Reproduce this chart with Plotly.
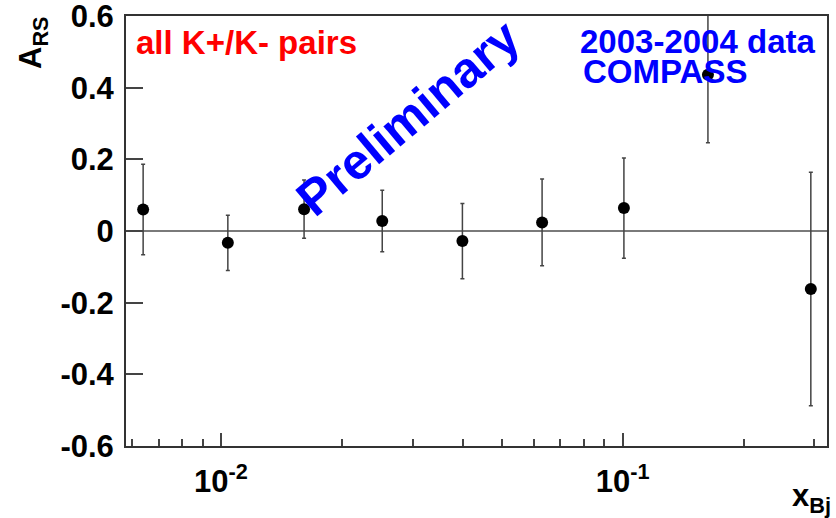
import plotly.graph_objects as go

# Asymmetry A_RS vs x_Bj, all K+/K- pairs (COMPASS 2003-2004)
x_bj = [0.0064, 0.0104, 0.0161, 0.0252, 0.0399, 0.0630, 0.1007, 0.1630, 0.2940]
a_rs = [0.060, -0.033, 0.061, 0.028, -0.028, 0.024, 0.064, 0.436, -0.162]
a_err = [0.126, 0.077, 0.081, 0.086, 0.105, 0.121, 0.140, 0.190, 0.326]

y_tickvals = [-0.6, -0.4, -0.2, 0, 0.2, 0.4, 0.6]
y_ticktext = ["-0.6", "-0.4", "-0.2", "0", "0.2", "0.4", "0.6"]
x_tickvals = [0.01, 0.1]
x_ticktext = ["10<sup>-2</sup>", "10<sup>-1</sup>"]
x_minor = [0.006, 0.007, 0.008, 0.009,
           0.02, 0.03, 0.04, 0.05, 0.06, 0.07, 0.08, 0.09,
           0.2, 0.3]

W, H = 836, 518
L, R, T, B = 126, 9, 16, 72
FONT = "Liberation Sans, Arial, Helvetica, sans-serif"


def px(xp):
    return (xp - L) / (W - L - R)


def py(yp):
    return (H - B - yp) / (H - T - B)


fig = go.Figure()
fig.add_trace(go.Scatter(
    x=x_bj, y=a_rs, mode="markers",
    marker=dict(color="black", size=12),
    error_y=dict(type="data", array=a_err, visible=True,
                 color="#444444", thickness=1.5, width=2),
    showlegend=False,
))

fig.update_layout(
    width=W, height=H,
    margin=dict(l=L, r=R, t=T, b=B, pad=0, autoexpand=False),
    paper_bgcolor="white", plot_bgcolor="white",
    font=dict(family=FONT, color="black"),
)

fig.update_xaxes(
    type="log", range=[-2.2365, -0.4914], automargin=False,
    showgrid=False, zeroline=False,
    showline=True, linecolor="#333333", linewidth=2, mirror=True,
    ticks="inside", ticklen=13, tickwidth=1.5, tickcolor="#444444",
    tickmode="array", tickvals=x_tickvals, ticktext=x_ticktext,
    tickfont=dict(family=FONT, size=31, weight="bold", color="black"),
    ticklabelstandoff=7,
    minor=dict(tickvals=x_minor, ticks="inside", ticklen=7,
               tickwidth=1.5, tickcolor="#444444", showgrid=False),
)

fig.update_yaxes(
    range=[-0.6, 0.6], automargin=False,
    showgrid=False,
    zeroline=True, zerolinecolor="#7a7a7a", zerolinewidth=2,
    showline=True, linecolor="#333333", linewidth=2, mirror=True,
    ticks="inside", ticklen=17, tickwidth=1.5, tickcolor="#444444",
    tickmode="array", tickvals=y_tickvals, ticktext=y_ticktext,
    tickfont=dict(family=FONT, size=31, weight="bold", color="black"),
    ticklabelstandoff=4, ticklabeloverflow="allow",
)

annotations = [
    dict(text="all K+/K- pairs", x=px(134), y=py(42), xanchor="left",
         yanchor="middle", font=dict(family=FONT, size=33, color="#ff0000",
                                     weight="bold")),
    dict(text="2003-2004 data", x=px(578), y=py(41), xanchor="left",
         yanchor="middle", font=dict(family=FONT, size=33, color="#0000ff",
                                     weight="bold")),
    dict(text="COMPASS", x=px(581), y=py(71), xanchor="left",
         yanchor="middle", font=dict(family=FONT, size=33, color="#0000ff",
                                     weight="bold")),
    dict(text="Preliminary", x=px(408), y=py(118), xanchor="center",
         yanchor="middle", textangle=-40,
         font=dict(family=FONT, size=50, color="#0000ff", weight="bold")),
    dict(text="A<sub>RS</sub>", x=px(33), y=py(43), xanchor="center",
         yanchor="middle", textangle=-90,
         font=dict(family=FONT, size=31, color="black", weight="bold")),
    dict(text="x<sub>Bj</sub>", x=px(833), y=py(498), xanchor="right",
         yanchor="middle",
         font=dict(family=FONT, size=31, color="black", weight="bold")),
]
for a in annotations:
    a.update(xref="paper", yref="paper", showarrow=False)
fig.update_layout(annotations=annotations)

fig.write_html("out.html")
